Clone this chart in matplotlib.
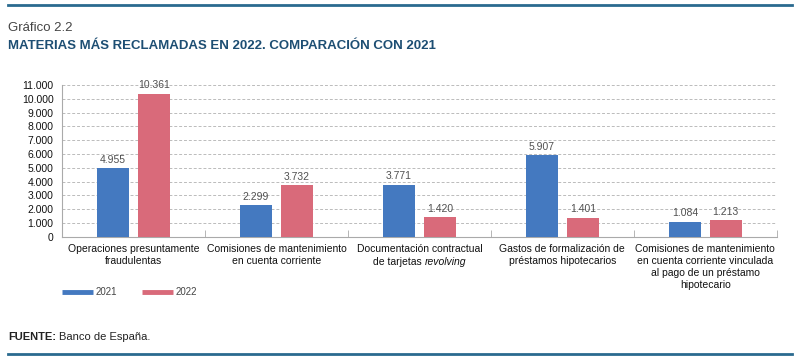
import numpy as np
import matplotlib.pyplot as plt
import matplotlib.lines as mlines
from matplotlib.ticker import FuncFormatter
from matplotlib.transforms import ScaledTranslation

plt.rcParams['font.family'] = ['Liberation Sans', 'DejaVu Sans']

categories = [
    'Operaciones presuntamente\nfraudulentas',
    'Comisiones de mantenimiento\nen cuenta corriente',
    'Documentación contractual',
    'Gastos de formalización de\npréstamos hipotecarios',
    'Comisiones de mantenimiento\nen cuenta corriente vinculada\nal pago de un préstamo\nhipotecario',
]
# second line of the third label, with the italic word
label3_plain = 'de tarjetas '
label3_italic = 'revolving'
values_2021 = [4955, 2299, 3771, 5907, 1084]
values_2022 = [10361, 3732, 1420, 1401, 1213]
yticks = list(range(0, 11001, 1000))

blue = '#4479c0'
red = '#d96a7a'
navy = '#1d4e73'


def miles(v, pos=None):
    return '{:,.0f}'.format(v).replace(',', '.')


fig = plt.figure(figsize=(8, 3.6), dpi=100)
renderer = fig.canvas.get_renderer()

# header / footer rules
fig.add_artist(mlines.Line2D([0.01, 0.99], [0.985, 0.985], color='#2a6a8f', lw=2))
fig.add_artist(mlines.Line2D([0.01, 0.99], [0.017, 0.017], color='#2a6a8f', lw=2))
fig.text(0.01, 0.94, 'Gráfico 2.2', fontsize=9.5, color='#444444', va='top')
fig.text(0.01, 0.89, 'MATERIAS MÁS RECLAMADAS EN 2022. COMPARACIÓN CON 2021',
         fontsize=9.5, fontweight='bold', color=navy, va='top')
src = fig.text(0.01, 0.065, 'FUENTE:', fontsize=8, fontweight='bold', color='#222222', va='center')
sw = src.get_window_extent(renderer).width
fig.text(0.01 + (sw + 3) / 800, 0.065, 'Banco de España.', fontsize=8, color='#222222', va='center')

ax = fig.add_axes([0.0775, 0.342, 0.8935, 0.422])
x = np.arange(len(categories))
w = 0.224
off = 0.143
b1 = ax.bar(x - off, values_2021, w, color=blue, zorder=3)
b2 = ax.bar(x + off, values_2022, w, color=red, zorder=3)
for bars in (b1, b2):
    for rect in bars:
        h = rect.get_height()
        ax.text(rect.get_x() + rect.get_width() / 2, h + 250, miles(h),
                ha='center', va='bottom', fontsize=7.5, color='#505050')

ax.set_xlim(-0.5, len(categories) - 0.5)
ax.set_ylim(0, 11000)
ax.set_yticks(yticks)
ax.yaxis.set_major_formatter(FuncFormatter(miles))
ax.grid(axis='y', color='#bbbbbb', linestyle=(0, (3, 2)), lw=0.7, zorder=0)

ax.set_xticks(x)
ax.set_xticklabels(categories, fontsize=7.5, color='#111111', linespacing=1.25)
ax.set_xticks(np.arange(len(categories)) + 0.5, minor=True)
ax.tick_params(axis='x', which='major', length=0, pad=5)
ax.tick_params(axis='x', which='minor', direction='in', length=5, color='#aaaaaa')
ax.tick_params(axis='y', length=0, labelsize=7.5, labelcolor='#111111', pad=6)
for s in ['top', 'right']:
    ax.spines[s].set_visible(False)
for s in ['left', 'bottom']:
    ax.spines[s].set_color('#aaaaaa')
    ax.spines[s].set_linewidth(0.8)

# second line of label 3: plain + italic pieces, centred together
t1 = ax.text(0, 0, label3_plain, fontsize=7.5)
t2 = ax.text(0, 0, label3_italic, fontsize=7.5, style='italic')
w1 = t1.get_window_extent(renderer).width
w2 = t2.get_window_extent(renderer).width
t1.remove()
t2.remove()
tot = w1 + w2
dy = (5 + 7.5 * 1.25 * 1.0) / 72
base = ax.get_xaxis_transform()
ax.text(2, 0, label3_plain, fontsize=7.5, color='#111111', va='top', ha='left',
        transform=base + ScaledTranslation(-tot / 2 / 100, -dy, fig.dpi_scale_trans))
ax.text(2, 0, label3_italic, fontsize=7.5, color='#111111', va='top', ha='left', style='italic',
        transform=base + ScaledTranslation((-tot / 2 + w1) / 100, -dy, fig.dpi_scale_trans))

# legend drawn in figure coordinates
ly = 1 - 292 / 360
for (x0, x1, col, lab) in [(62, 93, blue, '2021'), (142, 173, red, '2022')]:
    fig.add_artist(mlines.Line2D([x0 / 800, x1 / 800], [ly, ly], color=col, lw=3.5,
                                 solid_capstyle='butt'))
    fig.text((x1 + 3) / 800, ly, lab, fontsize=7, color='#444444', va='center')

fig.savefig('out.png', dpi=100)
